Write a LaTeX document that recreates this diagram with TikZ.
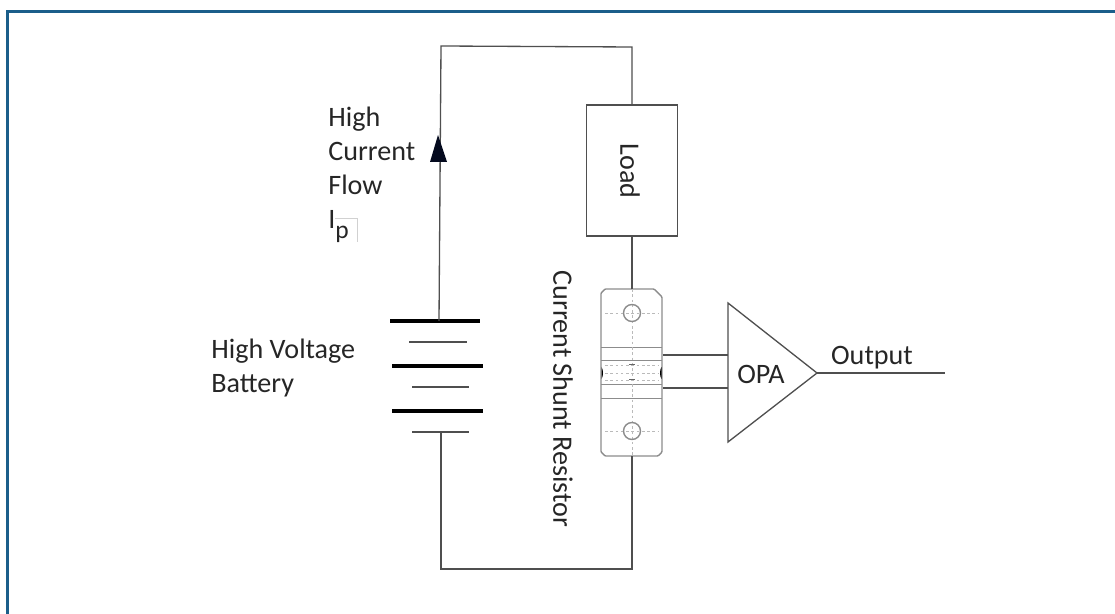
\documentclass[tikz,border=0pt]{standalone}
\usepackage{fontspec}
\setmainfont{Carlito}
\usepackage{xcolor}
\definecolor{framecolor}{HTML}{1B5E8A}
\definecolor{wirecolor}{HTML}{4F4F4F}
\definecolor{shuntcolor}{HTML}{8C8C8C}
\definecolor{arrowcolor}{HTML}{040A1E}
\tikzset{
  wire/.style={color=wirecolor,line width=0.75pt},
  plate/.style={color=black,line width=2.2pt},
  thinplate/.style={color=wirecolor,line width=0.75pt},
  shuntline/.style={color=shuntcolor,line width=0.8pt},
  shuntdash/.style={color=shuntcolor!60,line width=0.45pt,dash pattern=on 1.5pt off 1.5pt},
  hole/.style={draw=shuntcolor,line width=0.8pt,circle,minimum size=0.34cm,inner sep=0pt},
  label/.style={font=\fontsize{16}{19.2}\selectfont,text=black!85,inner sep=0pt,align=left}
}
\begin{document}
\begin{tikzpicture}[x=0.02cm,y=-0.02cm]
\useasboundingbox (0,0) rectangle (1115,614);
\draw [color=framecolor,line width=1.8pt] (7.5,614) -- (7.5,11.5) -- (1115,11.5);

% load and shunt
\node [draw=wirecolor,line width=0.75pt,minimum width=1.82cm,minimum height=2.62cm,inner sep=0pt] (load) at (632,170.5) {};
\node [label,rotate=-90] (loadtext) at (630,171) {Load};
\node [minimum width=1.22cm,minimum height=3.34cm,inner sep=0pt] (shunt) at (632,372.5) {};
\draw [shuntline,rounded corners=0.5pt] (605,289) -- (654,289) -- (662,297) -- (662,452) -- (658,456) -- (605,456) -- (601,452) -- (601,293) -- cycle;
\foreach \y in {347,360,384,398} \draw [shuntline,line width=0.5pt] (601,\y) -- (662,\y);
\foreach \y in {313,365,373,380,431} \draw [shuntdash] (605,\y) -- (659,\y);
\draw [shuntdash] (632,289) -- (632,456);
\node [hole] (holetop) at (632,313) {};
\node [hole] (holebot) at (632,431) {};
\fill [black] (601.5,367) .. controls (603.5,370) and (603.5,376) .. (601.5,379) -- cycle;
\fill [black] (661.5,367) .. controls (659.5,370) and (659.5,376) .. (661.5,379) -- cycle;
\fill [black!60] (629,364.5) rectangle (635,365.5);
\fill [black!60] (629,379.5) rectangle (635,380.5);
\node [label,rotate=-90] (shunttext) at (563,399) {Current Shunt Resistor};

% battery
\draw [plate] (390,321) -- (480,321);
\draw [thinplate] (409,342) -- (467,342);
\draw [plate] (392,366) -- (483,366);
\draw [thinplate] (412,387) -- (469,387);
\draw [plate] (392,411) -- (483,411);
\draw [thinplate] (412,432) -- (469,432);
\coordinate (batplus) at (439,321);
\coordinate (batminus) at (441,432);
\coordinate (topleft) at (441,46);
\coordinate (topright) at (632,47);
\coordinate (botleft) at (441,569);
\coordinate (botright) at (632,569);

% wires
\draw [wire] (batplus) -- (topleft) -- (topright) -- (load.north);
\draw [wire] (load.south) -- (shunt.north);
\draw [wire] (shunt.south) -- (botright) -- (botleft) -- (batminus);
\fill [arrowcolor] (438,135) -- (447,162) -- (430,162) -- cycle;

% amplifier
\coordinate (opatop) at (728,303);
\coordinate (opabot) at (728,442);
\coordinate (opatip) at (817,373);
\coordinate (outend) at (945,373);
\coordinate (inplus) at (728,355);
\coordinate (inminus) at (728,388);
\draw [wire,line join=miter] (opatop) -- (opatip) -- (opabot) -- cycle;
\draw [wire] (opatip) -- (outend);
\draw [wire] (inplus -| shunt.east) -- (inplus);
\draw [wire] (inminus -| shunt.east) -- (inminus);
\node [label] (opatext) at (761,374) {OPA};
\node [label] (outtext) at (872,358) {Output};

% text
\node [label,anchor=north west] (flowtext) at (328,107) {High\\Current\\Flow\\I\raisebox{-6pt}{\fontsize{14.5}{14.5}\selectfont p}};
\draw [color=black!18,line width=0.3pt] (335,218) -- (357,218) -- (357,242);
\node [label,anchor=north west] (battext) at (211,339) {High Voltage\\Battery};
\end{tikzpicture}
\end{document}
